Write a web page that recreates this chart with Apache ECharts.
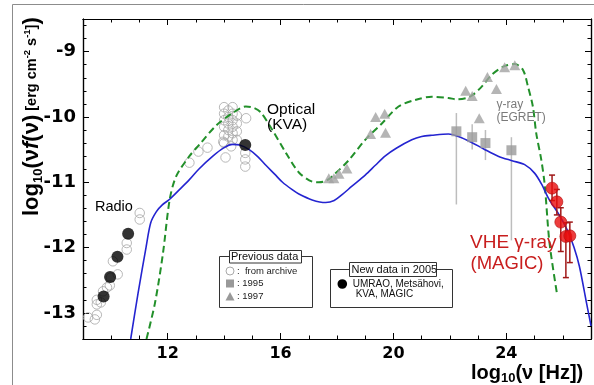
<!DOCTYPE html>
<html><head><meta charset="utf-8">
<script src="https://cdn.jsdelivr.net/npm/echarts@6/dist/echarts.min.js"></script>
<style>html,body{margin:0;padding:0;background:#fff}#c{width:594px;height:385px}</style>
</head><body><div id="c"></div>
<script>
// ---- tick labels ----
const xTickLabels = [12, 16, 20, 24];
const yTickLabels = [-13, -12, -11, -10, -9];

// ---- previous data: archive (open circles) ----
const archivePts = [
  [9.18,-13.07],[9.42,-13.10],[9.49,-13.03],[9.49,-12.87],[9.49,-12.80],[9.63,-12.84],
  [9.71,-12.67],[9.85,-12.61],[9.95,-12.58],[9.99,-12.46],[10.23,-12.41],[10.06,-12.21],
  [10.55,-12.03],[10.55,-11.93],[11.01,-11.57],[11.01,-11.47],
  [12.77,-10.70],[13.09,-10.53],[13.41,-10.47],[13.97,-10.38],
  [14.0,-9.85],[14.0,-9.95],[14.0,-10.05],[14.0,-10.15],[14.0,-10.28],[14.0,-10.40],[14.05,-10.62],
  [14.15,-9.90],[14.15,-10.00],[14.15,-10.10],[14.15,-10.20],[14.15,-10.30],
  [14.3,-9.85],[14.3,-9.95],[14.3,-10.05],[14.3,-10.15],[14.3,-10.25],[14.3,-10.35],[14.25,-10.45],
  [14.45,-9.98],[14.45,-10.10],[14.45,-10.22],[14.45,-10.35],
  [14.78,-10.02],[14.75,-10.55],[14.75,-10.65],[14.75,-10.76]
];
// ---- 1997 (triangles) ----
const tri1997 = [
  [17.71,-10.94],[17.89,-10.94],[18.07,-10.87],[18.35,-10.79],[19.19,-10.26],[19.37,-10.00],
  [19.69,-9.95],[19.72,-10.24],[22.56,-9.60],[22.79,-9.68],[23.04,-10.02],[23.33,-9.39],
  [23.65,-9.57],[23.94,-9.24],[24.30,-9.21]
];
// ---- 1995 (squares with error bars) ----
const sqX  = [22.23, 22.79, 23.26, 24.18];
const sqY  = [-10.22, -10.31, -10.40, -10.51];
const sqLo = [-11.34, -10.50, -10.66, -11.89];
const sqHi = [-9.94, -10.11, -10.20, -10.31];
// ---- new data 2005 (filled black) ----
const newPts = [[9.73,-12.75],[9.96,-12.45],[10.22,-12.14],[10.60,-11.79],[14.75,-10.43]];
// ---- MAGIC ----
const magX  = [25.62, 25.79, 25.93, 26.11, 26.25];
const magY  = [-11.09, -11.30, -11.61, -11.83, -11.82];
const magHi = [-10.89, -11.11, -11.39, -11.62, -11.61];
const magLo = [-11.28, -11.50, -12.06, -12.46, -12.23];
// ---- model curves ----
const blueX = [10.69,10.95,11.24,11.4,11.6,11.8,12.07,12.4,12.77,13.1,13.6,14.0,14.3,14.55,14.89,15.2,15.48,15.8,16.07,16.4,16.65,17.12,17.6,17.9,18.18,18.53,19.0,19.36,19.7,20.1,20.65,21.0,21.36,21.95,22.3,22.77,23.2,23.71,24.2,24.65,25.0,25.25,25.5,25.9,26.18,26.4,26.59,26.82,27.0];
const blueY = [-13.4,-12.7,-11.98,-11.62,-11.45,-11.35,-11.26,-11.12,-10.96,-10.8,-10.6,-10.47,-10.42,-10.43,-10.5,-10.61,-10.74,-10.88,-11.0,-11.11,-11.18,-11.27,-11.31,-11.28,-11.19,-11.06,-10.89,-10.74,-10.6,-10.48,-10.35,-10.3,-10.28,-10.26,-10.3,-10.39,-10.49,-10.6,-10.67,-10.73,-10.86,-11.03,-11.25,-11.52,-11.75,-12.0,-12.29,-12.8,-13.2];
const greenX = [11.25,11.55,11.83,12.07,12.3,12.77,13.13,13.72,14.3,14.77,15.05,15.3,15.71,16.19,16.65,17.12,17.36,17.6,17.83,18.42,19.0,19.59,20.18,20.77,21.36,21.95,22.24,22.71,23.12,23.47,23.89,24.3,24.59,24.77,24.94,25.06,25.24,25.36,25.53,25.8];
const greenY = [-13.4,-12.85,-12.1,-11.27,-10.91,-10.6,-10.42,-10.13,-9.94,-9.84,-9.86,-9.93,-10.2,-10.55,-10.85,-10.99,-11.0,-10.98,-10.91,-10.66,-10.35,-10.1,-9.84,-9.74,-9.69,-9.71,-9.73,-9.69,-9.54,-9.36,-9.23,-9.19,-9.28,-9.54,-9.84,-10.25,-10.66,-11.04,-11.93,-12.72];

const fam = '"Liberation Sans", Arial, Helvetica, sans-serif';
const tickFam = '"DejaVu Sans", sans-serif';

function xAxisDef(pos, major, labels) {
  const tick = {show:true, inside:true, length: major ? 6 : 3.5, lineStyle:{color:'#000', width:1}};
  if (major) tick.customValues = xTickLabels;
  return {
    type:'value', min:9, max:27, interval:1, position:pos,
    axisLine:{show:true, onZero:false, lineStyle:{color:'#000', width:1.2}},
    axisTick: tick,
    axisLabel: labels ? {show:true, margin:7, color:'#000', fontFamily:tickFam, fontWeight:'bold', fontSize:16,
      formatter: v => xTickLabels.indexOf(Math.round(v)) >= 0 && Math.abs(v-Math.round(v))<1e-6 ? String(Math.round(v)) : ''} : {show:false},
    splitLine:{show:false}
  };
}
function yAxisDef(pos, major, labels) {
  const tick = {show:true, inside:true, length: major ? 6 : 3.5, lineStyle:{color:'#000', width:1}};
  if (major) tick.customValues = yTickLabels;
  return {
    type:'value', min:-13.4, max:-8.5, interval:0.2, position:pos,
    axisLine:{show:true, onZero:false, lineStyle:{color:'#000', width:1.2}},
    axisTick: tick,
    axisLabel: labels ? {show:true, margin:7, color:'#000', fontFamily:tickFam, fontWeight:'bold', fontSize:18,
      formatter: v => (Math.abs(v-Math.round(v))<1e-6 && yTickLabels.indexOf(Math.round(v))>=0) ? String(Math.round(v)) : ''} : {show:false},
    splitLine:{show:false}
  };
}

function errRender(color, cap, width) {
  return function(params, api) {
    const x = api.value(0);
    const p1 = api.coord([x, api.value(1)]);
    const p2 = api.coord([x, api.value(2)]);
    const children = [{type:'line', shape:{x1:p1[0],y1:p1[1],x2:p2[0],y2:p2[1]}, style:{stroke:color, lineWidth:width}}];
    if (cap) {
      children.push({type:'line', shape:{x1:p1[0]-cap,y1:p1[1],x2:p1[0]+cap,y2:p1[1]}, style:{stroke:color, lineWidth:width}});
      children.push({type:'line', shape:{x1:p2[0]-cap,y1:p2[1],x2:p2[0]+cap,y2:p2[1]}, style:{stroke:color, lineWidth:width}});
    }
    return {type:'group', children};
  };
}

function txt(x, y, text, size, color, extra) {
  return Object.assign({type:'text', x, y, z:100, silent:true,
    style:{text, fill:color, fontSize:size, fontFamily:fam, align:'left', verticalAlign:'middle'}}, extra||{});
}

const big = {fontSize:22, fontWeight:'bold', fontFamily:fam, color:'#000', lineHeight:26, verticalAlign:'middle'};
const yTitle = {
  type:'text', x:32, y:216, rotation:Math.PI/2, z:100, silent:true,
  style:{
    text:'{a|log}{s|10}{a|(ν}{i|f}{a|(ν)}{m| [erg cm}{p|-2}{m| s}{p|-1}{m|]}{a|)}',
    align:'left', verticalAlign:'middle', fill:'#000',
    rich:{
      a: big,
      i: Object.assign({}, big, {fontStyle:'italic'}),
      s: {fontSize:13, fontWeight:'bold', fontFamily:fam, color:'#000', lineHeight:13, verticalAlign:'bottom'},
      m: {fontSize:14.5, fontWeight:'bold', fontFamily:fam, color:'#000', lineHeight:16, verticalAlign:'middle'},
      p: {fontSize:9.5, fontWeight:'bold', fontFamily:fam, color:'#000', lineHeight:10, verticalAlign:'middle', padding:[0,0,10,0]}
    }
  }
};
const xTitle = {
  type:'text', x:471, y:373, z:100, silent:true,
  style:{
    text:'{a|log}{s|10}{a|(ν [Hz])}',
    align:'left', verticalAlign:'middle', fill:'#000',
    rich:{
      a:{fontSize:20, fontWeight:'bold', fontFamily:fam, color:'#000', lineHeight:24, verticalAlign:'middle'},
      s:{fontSize:13, fontWeight:'bold', fontFamily:fam, color:'#000', lineHeight:12, verticalAlign:'bottom'}
    }
  }
};

const legendG = [
  {type:'rect', z:90, silent:true, shape:{x:219.5,y:256.5,width:93,height:51}, style:{fill:'#fff', stroke:'#333', lineWidth:1}},
  {type:'rect', z:91, silent:true, shape:{x:229.5,y:250.5,width:72,height:12.5}, style:{fill:'#fff', stroke:'#333', lineWidth:1}},
  txt(231, 257, 'Previous data', 11, '#111'),
  {type:'circle', z:92, silent:true, shape:{cx:230,cy:271,r:4}, style:{fill:'#fff', stroke:'#aaa', lineWidth:1}},
  txt(237, 271, ':  from archive', 9.5, '#222'),
  {type:'rect', z:92, silent:true, shape:{x:226,y:279.5,width:8,height:8}, style:{fill:'#999'}},
  txt(237, 283.5, ': 1995', 9.5, '#222'),
  {type:'polygon', z:92, silent:true, shape:{points:[[230,292],[234.5,300.5],[225.5,300.5]]}, style:{fill:'#999'}},
  txt(237, 296.5, ': 1997', 9.5, '#222'),

  {type:'rect', z:90, silent:true, shape:{x:330.5,y:269.5,width:122,height:38}, style:{fill:'#fff', stroke:'#333', lineWidth:1}},
  {type:'rect', z:91, silent:true, shape:{x:349.5,y:262.5,width:87,height:14}, style:{fill:'#fff', stroke:'#333', lineWidth:1}},
  txt(351.5, 269.8, 'New data in 2005', 11, '#111'),
  {type:'circle', z:92, silent:true, shape:{cx:342.3,cy:284,r:4.8}, style:{fill:'#000'}},
  txt(352.7, 284, 'UMRAO, Metsähovi,', 10, '#111'),
  txt(355.7, 294.5, 'KVA, MAGIC', 10, '#111')
];

const chart = echarts.init(document.getElementById('c'), null, {renderer:'canvas'});
chart.setOption({
  animation:false,
  backgroundColor:'#fff',
  grid:{left:83, right:1, top:19, bottom:46, containLabel:false},
  xAxis:[xAxisDef('bottom',false,true), xAxisDef('bottom',true,false), xAxisDef('top',false,false), xAxisDef('top',true,false)],
  yAxis:[yAxisDef('left',false,true), yAxisDef('left',true,false), yAxisDef('right',false,false), yAxisDef('right',true,false)],
  series:[
    {type:'custom', name:'err1995', xAxisIndex:0, yAxisIndex:0, silent:true, z:2,
     data: sqX.map((x,i)=>[x, sqLo[i], sqHi[i]]), encode:{x:0, y:[1,2]},
     renderItem: errRender('#bdbdbd', 0, 1.5)},
    {type:'scatter', name:'archive', xAxisIndex:0, yAxisIndex:0, silent:true, z:2,
     data: archivePts, symbol:'circle', symbolSize:9.5,
     itemStyle:{color:'rgba(255,255,255,0)', borderColor:'#a6a6a6', borderWidth:1}},
    {type:'line', name:'model1997', xAxisIndex:0, yAxisIndex:0, silent:true, z:3,
     data: greenX.map((x,i)=>[x, greenY[i]]), showSymbol:false, smooth:0.3,
     lineStyle:{color:'#22902a', width:2, type:[7,4]}},
    {type:'line', name:'model2005', xAxisIndex:0, yAxisIndex:0, silent:true, z:3,
     data: blueX.map((x,i)=>[x, blueY[i]]), showSymbol:false, smooth:0.3,
     lineStyle:{color:'#2424d0', width:1.6}},
    {type:'scatter', name:'1997', xAxisIndex:0, yAxisIndex:0, silent:true, z:4,
     data: tri1997, symbol:'triangle', symbolSize:[11,10], itemStyle:{color:'#a3a3a3'}},
    {type:'scatter', name:'1995', xAxisIndex:0, yAxisIndex:0, silent:true, z:4,
     data: sqX.map((x,i)=>[x, sqY[i]]), symbol:'rect', symbolSize:10, itemStyle:{color:'#9a9a9a'}},
    {type:'scatter', name:'new2005', xAxisIndex:0, yAxisIndex:0, silent:true, z:5,
     data: newPts, symbol:'circle', symbolSize:12, itemStyle:{color:'#000'}},
    {type:'custom', name:'errMagic', xAxisIndex:0, yAxisIndex:0, silent:true, z:5,
     data: magX.map((x,i)=>[x, magLo[i], magHi[i]]), encode:{x:0, y:[1,2]},
     renderItem: errRender('#a01818', 3, 1.5)},
    {type:'scatter', name:'MAGIC', xAxisIndex:0, yAxisIndex:0, silent:true, z:6,
     data: magX.map((x,i)=>[x, magY[i]]), symbol:'circle', symbolSize:12,
     itemStyle:{color:'#e80c0c', borderColor:'#b01010', borderWidth:0.8}}
  ],
  graphic:[
    {type:'rect', z:-10, silent:true, shape:{x:12.5,y:4.5,width:700,height:500}, style:{fill:'none', stroke:'#8c8c8c', lineWidth:1}},
    yTitle, xTitle,
    txt(95, 207, 'Radio', 14.5, '#000'),
    txt(267, 109.5, 'Optical', 15.5, '#000'),
    txt(267, 124.5, '(KVA)', 15.5, '#000'),
    txt(496.5, 105, 'γ-ray', 12, '#7a7a7a'),
    txt(496.5, 118, '(EGRET)', 12, '#7a7a7a'),
    txt(470, 243, 'VHE γ-ray', 19, '#c81e1e'),
    txt(470.5, 263.5, '(MAGIC)', 18.5, '#c81e1e')
  ].concat(legendG)
});
</script>
</body></html>
